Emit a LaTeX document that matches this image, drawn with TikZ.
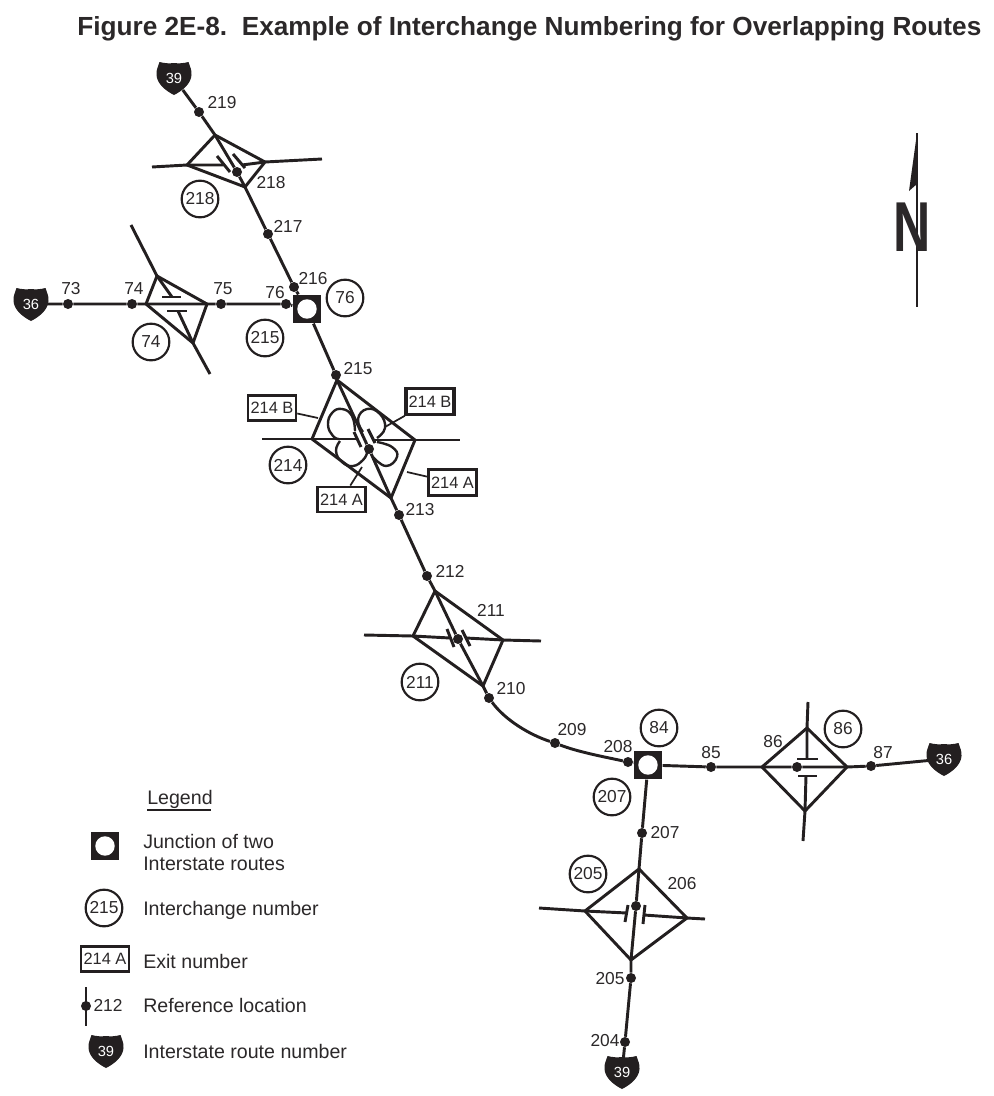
\documentclass[tikz,border=0pt]{standalone}
\usepackage{fontspec}
\setmainfont{Liberation Sans}
\usepackage{xcolor}
\usetikzlibrary{
  calc,
}
\definecolor{cInk}  {HTML}{231F20}
\definecolor{cText} {HTML}{2B2829}

\begin{document}
\begin{tikzpicture}[
  x=0.75pt, y=-0.75pt,
  every node/.style={align=center, text=cText},
  road/.style={draw=cInk, line width=2.2pt, line join=round},
  tick/.style={draw=cInk, line width=2.2pt},
  loopway/.style={draw=cInk, line width=1.8pt},
  leader/.style={draw=cInk, line width=1.3pt},
  refdot/.style={circle, fill=cInk, inner sep=0pt, minimum size=7.5pt},
  num/.style={font=\fontsize{13}{15}\selectfont, inner sep=0pt},
  intnum/.style={
    draw=cInk, circle, line width=1.6pt, inner sep=0pt,
    minimum size=27.5pt, font=\fontsize{13}{15}\selectfont,
  },
  exitbox/.style={
    draw=cInk, line width=1.9pt, inner sep=0pt,
    minimum width=36pt, minimum height=19pt, font=\fontsize{12.3}{15}\selectfont,
  },
  junction/.style={
    fill=cInk, inner sep=0pt, minimum size=21.5pt,
    path picture={\fill[white] (path picture bounding box.center) circle (7.3pt);},
  },
  shieldlbl/.style={
    circle, inner sep=0pt, minimum size=22pt, text=white,
    font=\fontsize{11}{13}\selectfont,
  },
  legendtxt/.style={
    anchor=west, inner sep=0pt, align=left, font=\fontsize{14.7}{16.5}\selectfont,
  },
  shieldmark/.pic={
    \fill[cInk] (-14.5,-16) .. controls (-9,-14.5) and (-4,-14.5) .. (0,-15)
      .. controls (4,-14.5) and (9,-14.5) .. (14.5,-16)
      .. controls (16,-11) and (18,-8) .. (17.5,-3)
      .. controls (17,6) and (8,13) .. (0,17)
      .. controls (-8,13) and (-17,6) .. (-17.5,-3)
      .. controls (-18,-8) and (-16,-11) .. (-14.5,-16) -- cycle;
  },
]
\useasboundingbox (0,0) rectangle (993,1096);

% ---- title ----
\node[anchor=west, inner sep=0pt, font=\fontsize{19.65}{22}\selectfont\bfseries] (title)
  at (77,29) {Figure 2E-8.\ \ Example of Interchange Numbering for Overlapping Routes};

% ---- north arrow ----
\coordinate (ntop) at (917,133);
\coordinate (nbot) at (917,307);
\draw[cInk, line width=2.2pt] (ntop) -- (nbot);
\fill[cInk] (ntop) -- (909,191) -- (917,184) -- cycle;
\node[inner sep=0pt, xscale=0.73, font=\fontsize{53}{53}\selectfont\bfseries] (north) at (912.5,227) {N};

% ---- shields ----
\pic at (174,78) {shieldmark};
\node[shieldlbl] (sh39n) at (174,78) {39};
\pic at (31,304) {shieldmark};
\node[shieldlbl] (sh36w) at (31,304) {36};
\pic at (944,759) {shieldmark};
\node[shieldlbl] (sh36e) at (944,759) {36};
\pic at (622,1072) {shieldmark};
\node[shieldlbl] (sh39s) at (622,1072) {39};

% ---- junctions ----
\node[junction] (jct76) at (307,309) {};
\node[junction] (jct84) at (648,765) {};

% ---- reference locations ----
\node[refdot] (r219) at (199,112) {};
\node[refdot] (r218) at (237,172) {};
\node[refdot] (r217) at (268,234) {};
\node[refdot] (r216) at (294,287) {};
\node[refdot] (r215) at (336,375) {};
\node[refdot] (r214) at (369,449) {};
\node[refdot] (r213) at (399,515) {};
\node[refdot] (r212) at (427,576) {};
\node[refdot] (r211) at (458,639) {};
\node[refdot] (r210) at (489,698) {};
\node[refdot] (r209) at (555,743) {};
\node[refdot] (r208) at (628,762) {};
\node[refdot] (r207) at (642,833) {};
\node[refdot] (r206) at (636,906) {};
\node[refdot] (r205) at (631,978) {};
\node[refdot] (r204) at (625,1042) {};
\node[refdot] (r73)  at (68,304) {};
\node[refdot] (r74)  at (132,304) {};
\node[refdot] (r75)  at (221,304) {};
\node[refdot] (r76)  at (286,304) {};
\node[refdot] (r85)  at (711,767) {};
\node[refdot] (r86)  at (797,767) {};
\node[refdot] (r87)  at (871,766) {};

% ---- interchange corners ----
\coordinate (tp218) at (215,135);
\coordinate (lf218) at (187,165);
\coordinate (rt218) at (265,162);
\coordinate (bt218) at (245,187);
\coordinate (tp214) at (337,380);
\coordinate (lf214) at (312,439);
\coordinate (rt214) at (415,440);
\coordinate (bt214) at (391,498);
\coordinate (tp211) at (435,591);
\coordinate (lf211) at (413,636);
\coordinate (rt211) at (503,640);
\coordinate (bt211) at (483,686);
\coordinate (tp206) at (639,869);
\coordinate (lf206) at (585,911);
\coordinate (rt206) at (687,918);
\coordinate (bt206) at (631,960);
\coordinate (tp74) at (157,276);
\coordinate (lf74) at (146,304);
\coordinate (rt74) at (207,304);
\coordinate (bt74) at (193,343);
\coordinate (tp86) at (807,728);
\coordinate (lf86) at (762,767);
\coordinate (rt86) at (847,767);
\coordinate (bt86) at (805,811);

% ---- I-39 ----
\draw[road] (sh39n) -- (r219) -- (tp218) -- (r218) -- (bt218) -- (r217) -- (r216) -- (jct76);
\draw[road] (jct76) -- (r215) -- (tp214) -- (r214) -- (bt214) -- (r213) -- (r212)
  -- (tp211) -- (r211) -- (bt211) -- (r210);
\draw[road] (r210) .. controls (505,720) and (530,735) .. (r209)
  .. controls (578,752) and (605,757) .. (r208) -- (jct84);
\draw[road] (jct84) -- (r207) -- (tp206) -- (r206) -- (bt206) -- (r205) -- (r204) -- (sh39s);

% ---- I-36 ----
\draw[road] (sh36w) -- (r73) -- (r74) -- (lf74) -- (rt74) -- (r75) -- (r76) -- (jct76);
\draw[road] (jct84) -- (r85) -- (lf86) -- (r86) -- (rt86) -- (r87) -- (sh36e);

% ---- diamonds ----
\draw[road] (tp218) -- (rt218) -- (bt218) -- (lf218) -- cycle;
\draw[road] (tp214) -- (rt214) -- (bt214) -- (lf214) -- cycle;
\draw[road] (tp211) -- (rt211) -- (bt211) -- (lf211) -- cycle;
\draw[road] (tp206) -- (rt206) -- (bt206) -- (lf206) -- cycle;
\draw[road] (tp74) -- (rt74) -- (bt74) -- (lf74) -- cycle;
\draw[road] (tp86) -- (rt86) -- (bt86) -- (lf86) -- cycle;

% ---- crossroads with bridge ticks ----
\draw[road] (152,167) -- (lf218) -- (223,165);
\draw[road] (242,165) -- (rt218) -- (322,159);
\draw[tick] (217,156) -- (230,172);
\draw[tick] (233,154) -- (245,168);

\draw[road] (262,439) -- (lf214) -- (358,439);
\draw[road] (372,440) -- (rt214) -- (460,440);
\draw[tick] (354,432) -- (361,447);
\draw[tick] (368,429) -- (375,443);

\draw[road] (364,635) -- (lf211) -- (450,638);
\draw[road] (466,638) -- (rt211) -- (541,641);
\draw[tick] (447,629) -- (454,647);
\draw[tick] (462,630) -- (470,646);

\draw[road] (539,908) -- (lf206) -- (627,913);
\draw[road] (644,915) -- (rt206) -- (705,919);
\draw[tick] (628,905) -- (625,922);
\draw[tick] (645,905) -- (643,924);

\draw[road] (131,225) -- (tp74) -- (172,297);
\draw[road] (178,311) -- (bt74) -- (210,374);
\draw[tick] (162,297) -- (181,297);
\draw[tick] (167,311) -- (187,311);

\draw[road] (808,702) -- (tp86) -- (807,759);
\draw[road] (806,776) -- (bt86) -- (803,841);
\draw[tick] (797,759) -- (818,759);
\draw[tick] (798,776) -- (817,776);

% ---- cloverleaf loops ----
\draw[loopway] plot[smooth, tension=0.8] coordinates
  {(355,431) (352,416) (342,409) (332,413) (328,425) (333,436) (339,439)};
\draw[loopway] plot[smooth, tension=0.8] coordinates
  {(363,432) (358,419) (367,409) (380,414) (385,428) (377,438)};
\draw[loopway] plot[smooth, tension=0.8] coordinates
  {(377,442) (392,447) (397,457) (386,466) (373,457)};
\draw[loopway] plot[smooth, tension=0.8] coordinates
  {(340,441) (336,451) (342,462) (353,466) (363,460) (367,453)};

% ---- exit numbers ----
\node[exitbox] (ex214bl) at (272,408)   {214 B};
\node[exitbox, line width=2.4pt] (ex214br) at (430,401.5) {214 B};
\node[exitbox] (ex214al) at (341.5,499.5) {214 A};
\node[exitbox, line width=2.4pt] (ex214ar) at (452.5,482.5) {214 A};
\coordinate (lead1) at (318,418);
\coordinate (lead2) at (385,427);
\coordinate (lead3) at (362,467);
\coordinate (lead4) at (407,472);
\draw[leader] (ex214bl) -- (lead1);
\draw[leader] (ex214br) -- (lead2);
\draw[leader] (ex214al) -- (lead3);
\draw[leader] (ex214ar) -- (lead4);

% ---- interchange numbers ----
\node[intnum] (c218) at (200,199) {218};
\node[intnum] (c76)  at (345,298) {76};
\node[intnum] (c74)  at (151,342) {74};
\node[intnum] (c215) at (265,338) {215};
\node[intnum] (c214) at (288,465) {214};
\node[intnum] (c211) at (420,682) {211};
\node[intnum] (c84)  at (659,728) {84};
\node[intnum] (c86)  at (843,729) {86};
\node[intnum] (c207) at (612,797) {207};
\node[intnum] (c205) at (588,874) {205};

% ---- reference numbers ----
\node[num] (t219) at (222,103) {219};
\node[num] (t218) at (271,183) {218};
\node[num] (t217) at (288,226) {217};
\node[num] (t216) at (313,279) {216};
\node[num] (t76)  at (275,293) {76};
\node[num] (t73)  at (71,289)  {73};
\node[num] (t74)  at (134,289) {74};
\node[num] (t75)  at (223,289) {75};
\node[num] (t215) at (358,369) {215};
\node[num] (t213) at (420,510) {213};
\node[num] (t212) at (450,571) {212};
\node[num] (t211) at (491,610) {211};
\node[num] (t210) at (511,689) {210};
\node[num] (t209) at (572,730) {209};
\node[num] (t208) at (618,747) {208};
\node[num] (t85)  at (711,753) {85};
\node[num] (t86)  at (773,742) {86};
\node[num] (t87)  at (883,753) {87};
\node[num] (t207) at (665,833) {207};
\node[num] (t206) at (682,884) {206};
\node[num] (t205) at (610,979) {205};
\node[num] (t204) at (605,1041) {204};

% ---- legend ----
\node[legendtxt] (lgtitle) at (147,799) {Legend};
\coordinate (lgul) at (147,810);
\coordinate (lgur) at (211,810);
\draw[cInk, line width=1.3pt] (lgul) -- (lgur);

\node[junction] (lgjct) at (105,846) {};
\node[legendtxt] (lgjtxt) at (143,852) {Junction of two\\Interstate routes};
\node[intnum] (lgint) at (104,908) {215};
\node[legendtxt] (lgitxt) at (143,910) {Interchange number};
\node[exitbox] (lgexit) at (105,959) {214 A};
\node[legendtxt] (lgetxt) at (143,961) {Exit number};
\coordinate (lgrt) at (86,987);
\coordinate (lgrb) at (86,1026);
\draw[road] (lgrt) -- (lgrb);
\node[refdot] (lgref) at (86,1006) {};
\node[num] (lgnum) at (108,1005) {212};
\node[legendtxt] (lgrtxt) at (143,1005) {Reference location};
\pic at (106,1051) {shieldmark};
\node[shieldlbl] (lgsh) at (106,1051) {39};
\node[legendtxt] (lgstxt) at (143,1051) {Interstate route number};

\end{tikzpicture}
\end{document}
